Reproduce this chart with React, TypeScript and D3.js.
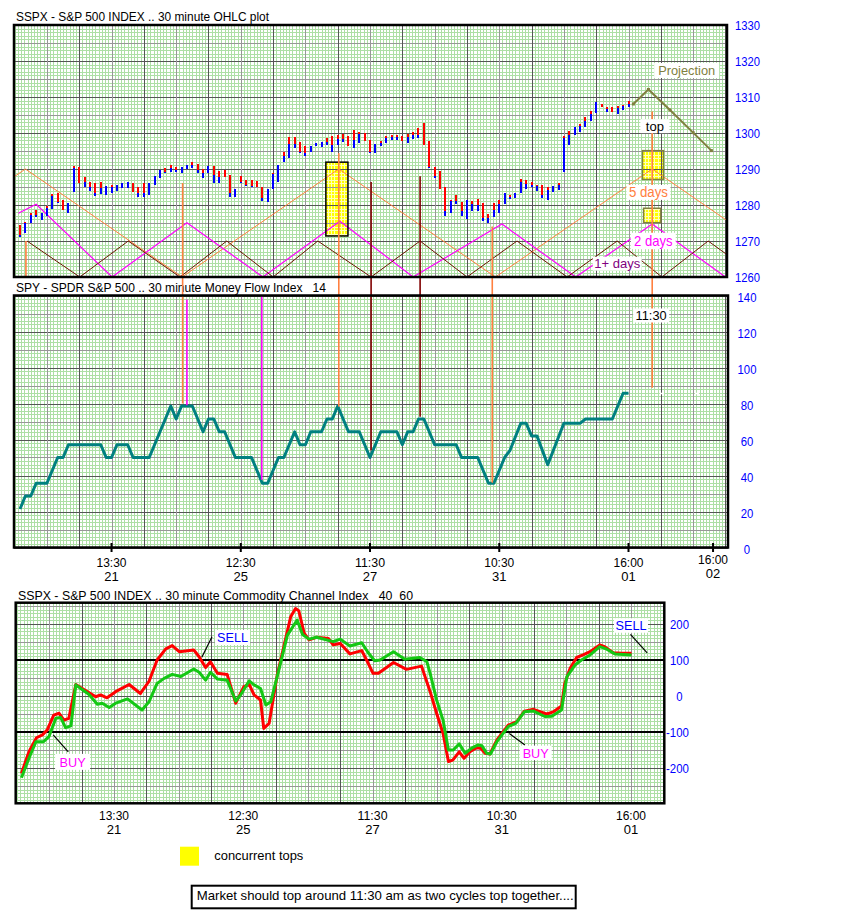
import React from 'react';
import * as d3 from 'd3';

const W = 861;
const H = 917;
const FONT = '"Liberation Sans", Arial, Helvetica, sans-serif';

// ---------------- DATA ----------------
const barHigh = [
  1274.4, 1275.3, 1277.8, 1278.6, 1277.8, 1279.7, 1283.0, 1283.3, 1281.4, 1280.6,
  1290.8, 1290.5, 1287.8, 1286.4, 1286.1, 1286.4, 1285.3, 1285.6, 1285.6, 1286.1,
  1286.4, 1286.1, 1285.0, 1286.1, 1286.1, 1288.1, 1289.7, 1290.3, 1291.1, 1290.5,
  1290.5, 1291.1, 1291.9, 1291.4, 1290.0, 1290.8, 1290.8, 1289.4, 1289.7, 1288.3,
  1284.4, 1288.1, 1287.0, 1287.0, 1286.7, 1285.0, 1284.4, 1288.9, 1291.1, 1294.7,
  1298.9, 1298.9, 1297.5, 1296.4, 1296.4, 1297.2, 1297.5, 1298.6, 1299.2, 1299.4,
  1299.7, 1299.2, 1300.8, 1300.3, 1300.0, 1298.1, 1297.0, 1297.9, 1299.2, 1299.4,
  1299.4, 1299.2, 1299.7, 1300.3, 1301.4, 1302.8, 1297.8, 1290.5, 1289.4, 1285.0,
  1281.4, 1282.8, 1280.8, 1281.4, 1281.1, 1281.7, 1280.6, 1277.5, 1280.6, 1281.4,
  1283.3, 1282.8, 1283.3, 1287.2, 1286.9, 1286.4, 1285.6, 1285.6, 1285.0, 1285.3,
  1286.1, 1299.2, 1300.5, 1301.7, 1302.5, 1304.4, 1306.1, 1308.6, 1308.1, 1307.2,
  1307.2, 1307.5, 1307.8, 1308.9,
];
const barMid = [
  1271.7, 1274.9, 1277.2, 1277.2, 1277.8, 1279.2, 1282.5, 1280.9, 1278.6, 1280.6,
  1290.3, 1286.1, 1286.4, 1285.0, 1283.3, 1284.7, 1285.3, 1285.0, 1285.6, 1286.1,
  1286.4, 1283.6, 1283.3, 1283.3, 1286.1, 1288.1, 1289.7, 1289.2, 1290.3, 1289.7,
  1290.5, 1291.1, 1291.1, 1289.7, 1288.9, 1290.8, 1288.3, 1287.8, 1287.8, 1283.3,
  1284.4, 1286.4, 1285.6, 1285.3, 1285.0, 1281.9, 1284.4, 1288.6, 1291.1, 1293.6,
  1297.0, 1297.0, 1294.7, 1294.4, 1296.4, 1297.2, 1297.5, 1297.5, 1296.7, 1298.3,
  1298.3, 1296.4, 1298.1, 1299.7, 1297.8, 1294.7, 1297.0, 1297.2, 1298.6, 1298.9,
  1298.9, 1297.8, 1298.9, 1299.4, 1299.4, 1296.7, 1290.5, 1288.1, 1284.4, 1278.3,
  1281.1, 1281.1, 1278.3, 1281.4, 1280.3, 1280.0, 1276.4, 1276.4, 1278.6, 1280.3,
  1283.3, 1282.2, 1283.3, 1286.4, 1285.8, 1285.6, 1285.3, 1282.8, 1284.2, 1285.3,
  1285.6, 1298.6, 1299.4, 1301.7, 1301.9, 1303.3, 1305.3, 1308.6, 1307.2, 1306.7,
  1305.8, 1306.9, 1307.5, 1308.1,
];
const barLow = [
  1271.1, 1272.2, 1275.0, 1276.7, 1275.8, 1277.0, 1278.9, 1280.6, 1278.6, 1277.8,
  1283.6, 1286.1, 1285.0, 1283.9, 1282.5, 1283.1, 1282.8, 1283.3, 1283.9, 1284.7,
  1284.7, 1283.6, 1282.2, 1282.2, 1282.8, 1285.6, 1287.5, 1288.9, 1289.2, 1289.2,
  1288.9, 1290.0, 1290.3, 1288.9, 1287.5, 1288.9, 1286.1, 1286.1, 1287.8, 1282.2,
  1282.2, 1286.1, 1285.3, 1285.0, 1285.0, 1281.1, 1280.8, 1284.4, 1286.4, 1291.9,
  1293.1, 1295.8, 1294.4, 1293.6, 1294.7, 1296.4, 1296.1, 1296.7, 1294.7, 1296.7,
  1297.5, 1296.4, 1295.8, 1297.2, 1297.8, 1294.4, 1294.4, 1296.4, 1297.2, 1298.1,
  1298.1, 1297.8, 1297.2, 1298.3, 1298.6, 1296.7, 1290.3, 1287.5, 1284.4, 1276.9,
  1277.8, 1280.3, 1276.9, 1276.1, 1278.3, 1278.3, 1275.6, 1275.0, 1276.7, 1277.8,
  1280.3, 1281.7, 1282.0, 1283.3, 1284.4, 1285.0, 1283.9, 1281.9, 1281.4, 1283.6,
  1284.2, 1289.2, 1296.7, 1299.4, 1300.3, 1301.7, 1303.3, 1305.6, 1307.2, 1305.8,
  1305.8, 1305.3, 1306.4, 1307.2,
];

const mfiIdx = [0, 1, 2, 3, 5, 7, 8, 9, 15, 16, 17, 18, 20, 21, 24, 28, 29, 30, 32, 34, 35, 36, 37, 38, 40, 43, 45, 46, 48, 49, 51, 52, 53, 54, 56, 57, 58, 59, 61, 63, 65, 67, 70, 71, 72, 73, 74, 75, 76, 77, 81, 82, 85, 87, 88, 90, 91, 93, 94, 95, 96, 98, 101, 104, 105, 110, 112, 113];
const mfiVal = [21.4, 28.6, 28.6, 35.7, 35.7, 50, 50, 57.1, 57.1, 50, 50, 57.1, 57.1, 50, 50, 78.6, 71.4, 78.6, 78.6, 64.3, 71.4, 71.4, 64.3, 64.3, 50, 50, 35.7, 35.7, 50, 50, 64.3, 57.1, 57.1, 64.3, 64.3, 71.4, 71.4, 78.6, 64.3, 64.3, 50, 64.3, 64.3, 57.1, 64.3, 64.3, 71.4, 71.4, 64.3, 57.1, 57.1, 50, 50, 35.7, 35.7, 50, 54, 69, 69, 62, 62, 46, 69, 69, 71.4, 71.4, 85.7, 85.7];
const mfiProjIdx = [119.2, 125.7];
const mfiProjVal = [85.7, 85.7];

const cciRedIdx = [-0.2, 1.2, 2.6, 3.7, 4.6, 5.8, 6.8, 7.7, 8.6, 9.9, 11.1, 13.6, 14.5, 15.7, 17.3, 19.8, 21.9, 23.5, 25, 26.6, 27.8, 29.1, 31.8, 32.8, 34, 34.9, 36.2, 38, 39.6, 41.1, 42.1, 43, 44.2, 44.8, 45.8, 47.3, 48.6, 49.8, 50.7, 51.3, 52.3, 53.2, 54.6, 56.8, 57.7, 59, 60.8, 63, 63.9, 65.1, 66.1, 68.9, 71.3, 74.1, 75.7, 76.9, 78.1, 79.1, 79.9, 81.1, 82, 83.1, 84.3, 85.1, 85.9, 86.8, 88.1, 90.2, 91.8, 93.2, 94.9, 97.3, 98.6, 100.1, 100.7, 101.7, 102.9, 104.1, 105.4, 107.2, 108.1, 109.7, 111.3, 113.1];
const cciRedVal = [-215, -155, -116, -108, -94, -53, -48, -67, -62, 32, 21, -2, 3, -5, 12, 32, 7, 41, 100, 131, 140, 123, 128, 109, 79, 95, 63, 60, -20, 26, 32, 3, -11, -90, -76, 58, 142, 220, 243, 237, 175, 156, 163, 160, 142, 146, 117, 126, 100, 63, 63, 93, 74, 83, 12, -48, -104, -182, -178, -155, -173, -155, -144, -145, -159, -161, -122, -81, -71, -42, -37, -50, -44, -28, 35, 77, 107, 114, 123, 142, 137, 120, 119, 119];
const cciGreenIdx = [-0.2, 1.2, 2.5, 3.9, 4.9, 6.2, 7.1, 8, 9, 9.9, 10.8, 12.3, 13.9, 14.8, 16.1, 17.3, 19.5, 22.2, 23.5, 25, 26.3, 27.8, 29.4, 31.8, 32.8, 34, 34.9, 36.2, 38, 39.6, 40.5, 42.1, 43, 44.2, 45.2, 46.1, 47.6, 49.2, 51, 52, 53.2, 54.6, 57.7, 59, 60.8, 63, 64.2, 65.4, 66.4, 68.9, 71, 73.8, 75.1, 75.7, 76.9, 78.1, 79.1, 80, 81.1, 82.2, 83.4, 84.6, 85.3, 86.2, 86.9, 88.1, 90.2, 91.6, 93.2, 94.9, 97, 98.3, 100.1, 101.1, 102.6, 103.8, 105.4, 107.2, 108.5, 110, 113.1];
const cciGreenVal = [-227, -173, -127, -127, -113, -62, -60, -88, -83, 31, 21, 5, -23, -20, -32, -20, -8, -39, -16, 35, 49, 60, 54, 75, 66, 44, 66, 47, 44, -14, 3, 42, 31, 21, -25, -16, 72, 169, 211, 171, 158, 163, 151, 158, 139, 148, 120, 98, 100, 123, 102, 107, 95, 63, -11, -67, -150, -150, -133, -159, -145, -136, -138, -159, -161, -127, -85, -76, -44, -42, -57, -56, -39, 54, 86, 100, 114, 137, 130, 117, 114];

// cycle lines (vertices: bar index, price)
const cycle5Idx = [-28.1, 1, 30.1, 59.2, 88.3, 117.4, 146.5];
const cycle5Val = [1260, 1290, 1260, 1290, 1260, 1290, 1260];
const cycle2Idx = [-0.3, 3, 17.1, 31, 45.1, 59.4, 73, 89.5, 103.2, 117.4, 131];
const cycle2Val = [1277.7, 1280.2, 1260, 1275.1, 1260, 1275.5, 1260, 1274.7, 1260, 1274.7, 1260];
const cycle1Idx = [1.3, 11.1, 20.1, 29.7, 38.4, 47, 55.3, 65.2, 74.3, 83, 92.3, 101.6, 110.9, 119.2, 127.8, 137];
const cycle1Val = [1270, 1260, 1270, 1260, 1270, 1260, 1270, 1260, 1270, 1260, 1270, 1260, 1270, 1260, 1270, 1260];

const projIdx = [113.9, 116.7, 120.7, 125, 128.4];
const projVal = [1308.05, 1312.1, 1306.4, 1300.1, 1295.1];

// vertical cycle markers
const markerIdx = [1.1, 30.2, 31.0, 44.9, 59.2, 65.2, 74.3, 87.7, 117.4];
const markerFrom = [1270, 1286.1, 137.8, 140, 1294.4, 1286.4, 1288, 1274, 1306];
const markerFromPanel = ['p', 'p', 'm', 'm', 'p', 'p', 'p', 'p', 'p'];
const markerTo = [1260, 80, 79, 37.6, 78.3, 54, 72.7, 36, 88.8];
const markerToPanel = ['p', 'm', 'm', 'm', 'm', 'm', 'm', 'm', 'm'];
const markerKind = ['orange', 'orange', 'magenta', 'magenta', 'orange', 'maroon', 'maroon', 'orange', 'orange'];

// boxes (bar index range, price range)
const concurrentBox = { i0: 56.8, i1: 60.9, p0: 1271.4, p1: 1291.9 };
const projBoxes = [
  { i0: 115.6, i1: 119.5, p0: 1287.1, p1: 1295.1 },
  { i0: 115.8, i1: 119.0, p0: 1275.1, p1: 1279.1 },
];

// axis ticks
const priceTicks = [1260, 1270, 1280, 1290, 1300, 1310, 1320, 1330];
const mfiTicks = [0, 20, 40, 60, 80, 100, 120, 140];
const cciTicks = [200, 100, 0, -100, -200];
const timeIdx = [17, 41, 65, 89, 113];
const timeLabel = ['13:30', '12:30', '11:30', '10:30', '16:00'];
const dayLabel = ['21', '25', '27', '31', '01'];
const extraTimeIdx = 128.7;
const extraTimeLabel = '16:00';
const extraDayLabel = '02';

const COL = {
  minor: '#addfa5',
  med: '#979797',
  dark: '#555555',
  orange: '#ff8040',
  magenta: '#ff00ff',
  maroon: '#800000',
  brown: '#6a1500',
  olive: '#808040',
  teal: '#008080',
  blue: '#0000ff',
  red: '#ff0000',
  green: '#14c814',
  purple: '#800080',
};

function cr(v: number) {
  return Math.round(v) + 0.5;
}

type PanelProps = {
  x: d3.ScaleLinear<number, number>;
  y: d3.ScaleLinear<number, number>;
  x0: number; x1: number; y0: number; y1: number;
  hMinor: number; hMed: number; hMajor: number;
  boxes?: { x: number; y: number; w: number; h: number }[];
  id: string;
};

function Grid({ x, y, x0, x1, y0, y1, hMinor, hMed, hMajor, boxes, id }: PanelProps) {
  const vTop = y.invert(y0);
  const vBot = y.invert(y1);
  const lo = Math.min(vTop, vBot);
  const hi = Math.max(vTop, vBot);
  const hVals: number[] = [];
  for (let k = Math.ceil(lo / hMinor - 1e-6); k * hMinor <= hi + 1e-6; k++) hVals.push(k * hMinor);
  const iLo = x.invert(x0);
  const iHi = x.invert(x1);
  const vMinor: number[] = [];
  for (let k = 0; ; k++) {
    const v = -1 + 0.6 * k;
    if (v > iHi) break;
    if (v >= iLo) vMinor.push(v);
  }
  const vMajor: number[] = [];
  for (let k = 0; ; k++) {
    const v = 5 + 6 * k;
    if (v > iHi - 0.2) break;
    vMajor.push(v);
  }
  const isMult = (v: number, m: number) => Math.abs(v / m - Math.round(v / m)) < 1e-6;
  const minorLines = (stroke: string) => (
    <g stroke={stroke} strokeWidth={1} shapeRendering="crispEdges">
      {hVals.filter((v) => !isMult(v, hMed)).map((v, k) => (
        <line key={'h' + k} x1={x0} x2={x1} y1={cr(y(v))} y2={cr(y(v))} />
      ))}
      {vMinor.map((v, k) => (
        <line key={'v' + k} x1={cr(x(v))} x2={cr(x(v))} y1={y0} y2={y1} />
      ))}
    </g>
  );
  return (
    <g>
      <rect x={x0} y={y0} width={x1 - x0} height={y1 - y0} fill="#ffffff" />
      {minorLines(COL.minor)}
      {boxes && boxes.length > 0 && (
        <g>
          <defs>
            <clipPath id={id + '-bx'}>
              {boxes.map((b, k) => (
                <rect key={k} x={b.x} y={b.y} width={b.w} height={b.h} />
              ))}
            </clipPath>
          </defs>
          {boxes.map((b, k) => (
            <rect key={k} x={b.x} y={b.y} width={b.w} height={b.h} fill="#ffff00" />
          ))}
          <g clipPath={`url(#${id}-bx)`}>{minorLines('#ffffb8')}</g>
        </g>
      )}
      <g strokeWidth={1} shapeRendering="crispEdges">
        {hVals.filter((v) => isMult(v, hMed)).map((v, k) => (
          <line key={'H' + k} x1={x0} x2={x1} y1={cr(y(v))} y2={cr(y(v))}
            stroke={isMult(v, hMajor) ? COL.dark : COL.med} />
        ))}
        {vMajor.map((v, k) => (
          <line key={'V' + k} x1={cr(x(v))} x2={cr(x(v))} y1={y0} y2={y1}
            stroke={(v - 11) % 12 === 0 ? COL.dark : COL.med} />
        ))}
      </g>
    </g>
  );
}

function LabelBox({ cx, cy, w, h, text, color, size, tl }: { cx: number; cy: number; w: number; h: number; text: string; color: string; size: number; tl?: number }) {
  return (
    <g>
      <rect x={cx - w / 2} y={cy - h / 2} width={w} height={h} fill="#ffffff" />
      <text x={cx} y={cy + size * 0.36} textAnchor="middle" fontSize={size} fill={color}
        fontFamily={FONT} textLength={tl} lengthAdjust={tl ? 'spacingAndGlyphs' : undefined}>{text}</text>
    </g>
  );
}

export default function App() {
  const barStep = 5.385;
  const xP = d3.scaleLinear().domain([0, 113]).range([20, 20 + 113 * barStep]);
  const xC = d3.scaleLinear().domain([0, 113]).range([22.5, 22.5 + 113 * barStep]);
  const yP = d3.scaleLinear().domain([1260, 1330]).range([277, 25]);
  const yM = d3.scaleLinear().domain([0, 140]).range([547.5, 295.5]);
  const yC = d3.scaleLinear().domain([-100, 100]).range([732, 660]);

  const P = { x0: 14, x1: 727, y0: 25, y1: 277 };
  const M = { x0: 14, x1: 728, y0: 295.5, y1: 547.5 };
  const C = { x0: 15.7, x1: 664.3, y0: 602.7, y1: 803.3 };

  const mkLine = (xs: d3.ScaleLinear<number, number>, ys: d3.ScaleLinear<number, number>, idx: number[], val: number[]) =>
    d3.line<number>().x((d) => xs(idx[d])).y((d) => ys(val[d]))(d3.range(idx.length)) || '';

  const boxRect = (b: { i0: number; i1: number; p0: number; p1: number }) => ({
    x: xP(b.i0), y: yP(b.p1), w: xP(b.i1) - xP(b.i0), h: yP(b.p0) - yP(b.p1),
  });
  const yellowBoxes = [boxRect(concurrentBox), ...projBoxes.map(boxRect)];

  const markerY = (v: number, panel: string) => (panel === 'p' ? yP(v) : yM(v));
  const markerColor: Record<string, string> = { orange: COL.orange, magenta: COL.magenta, maroon: COL.maroon };

  const digitW = 6.3;
  const numTL = (s: string) => s.replace('-', '').length * digitW + (s.startsWith('-') ? 4 : 0);

  const titleStyle = { fontFamily: FONT, fontSize: 13, fill: '#000' };
  const nb = '\u00a0';

  return (
    <svg width={W} height={H} viewBox={`0 0 ${W} ${H}`}
      style={{ position: 'absolute', left: 0, top: 0, display: 'block', background: '#fff' }}>
      <rect x={0} y={0} width={W} height={H} fill="#ffffff" />
      <defs>
        <clipPath id="clipP"><rect x={P.x0} y={P.y0} width={P.x1 - P.x0} height={P.y1 - P.y0} /></clipPath>
        <clipPath id="clipM"><rect x={M.x0} y={M.y0} width={M.x1 - M.x0} height={M.y1 - M.y0} /></clipPath>
        <clipPath id="clipC"><rect x={C.x0} y={C.y0} width={C.x1 - C.x0} height={C.y1 - C.y0} /></clipPath>
      </defs>

      {/* ---------- TOP PANEL ---------- */}
      <text x={16} y={21} {...titleStyle} textLength={253} lengthAdjust="spacingAndGlyphs">SSPX - S&amp;P 500 INDEX .. 30 minute OHLC plot</text>
      <Grid id="gp" x={xP} y={yP} {...P} hMinor={1} hMed={5} hMajor={10} boxes={yellowBoxes} />

      <g clipPath="url(#clipP)" fill="none">
        <path d={mkLine(xP, yP, cycle5Idx, cycle5Val)} stroke={COL.orange} strokeWidth={1} />
        <path d={mkLine(xP, yP, cycle2Idx, cycle2Val)} stroke={COL.magenta} strokeWidth={1.2} />
        <path d={mkLine(xP, yP, cycle1Idx, cycle1Val)} stroke={COL.brown} strokeWidth={1} />
      </g>

      {/* box borders */}
      {(() => {
        const b = boxRect(concurrentBox);
        return <rect x={b.x} y={b.y} width={b.w} height={b.h} fill="none" stroke="#000" strokeWidth={1.5} />;
      })()}
      {projBoxes.map((pb, k) => {
        const b = boxRect(pb);
        return <rect key={k} x={b.x} y={b.y} width={b.w} height={b.h} fill="none" stroke={COL.olive} strokeWidth={1.5} />;
      })}

      {/* OHLC bars */}
      <g shapeRendering="crispEdges">
        {barHigh.map((h, i) => {
          const x = xP(i) - 1;
          return (
            <g key={i}>
              {h > barMid[i] && <rect x={x} y={yP(h)} width={2} height={yP(barMid[i]) - yP(h)} fill={COL.red} />}
              {barMid[i] > barLow[i] && <rect x={x} y={yP(barMid[i])} width={2} height={yP(barLow[i]) - yP(barMid[i])} fill={COL.blue} />}
            </g>
          );
        })}
      </g>

      {/* projection */}
      <path d={mkLine(xP, yP, projIdx, projVal)} fill="none" stroke={COL.olive} strokeWidth={2} />
      {projIdx.map((v, k) => (
        <rect key={k} x={xP(v) - 1.5} y={yP(projVal[k]) - 1.5} width={3} height={3} fill={COL.olive} />
      ))}

      {/* y axis labels top */}
      {priceTicks.map((t) => (
        <text key={t} x={747.5} y={yP(t) + 4.7} textAnchor="middle" fontFamily={FONT} fontSize={13}
          fill={COL.blue} textLength={25} lengthAdjust="spacingAndGlyphs">{t}</text>
      ))}

      {/* ---------- MFI PANEL ---------- */}
      <text x={16} y={292} {...titleStyle} textLength={310} lengthAdjust="spacingAndGlyphs">{`SPY - SPDR S&P 500 .. 30 minute Money Flow Index ${nb}${nb}14`}</text>
      <Grid id="gm" x={xP} y={yM} {...M} hMinor={2} hMed={10} hMajor={20} />
      <g clipPath="url(#clipM)">
        <path d={mkLine(xP, yM, mfiIdx, mfiVal)} fill="none" stroke={COL.teal} strokeWidth={3} strokeLinejoin="round" />
        {mfiProjIdx.map((v, k) => (
          <rect key={k} x={xP(v) - 2} y={yM(mfiProjVal[k]) - 0.5} width={4} height={1.5} fill="#ffffff" />
        ))}
      </g>
      {mfiTicks.map((t) => (
        <text key={t} x={747} y={yM(t) + 6.5} textAnchor="middle" fontFamily={FONT} fontSize={13}
          fill={COL.blue} textLength={numTL(String(t))} lengthAdjust="spacingAndGlyphs">{t}</text>
      ))}
      {/* time ticks */}
      {timeIdx.map((v, k) => (
        <g key={k}>
          <line x1={xP(v)} x2={xP(v)} y1={543} y2={552} stroke="#000" strokeWidth={2} />
          <text x={xP(v)} y={567} textAnchor="middle" fontFamily={FONT} fontSize={13} fill="#000"
            textLength={30} lengthAdjust="spacingAndGlyphs">{timeLabel[k]}</text>
          <text x={xP(v)} y={580.5} textAnchor="middle" fontFamily={FONT} fontSize={13} fill="#000">{dayLabel[k]}</text>
        </g>
      ))}
      <line x1={xP(extraTimeIdx)} x2={xP(extraTimeIdx)} y1={543} y2={552} stroke="#000" strokeWidth={2} />
      <text x={xP(extraTimeIdx)} y={563.5} textAnchor="middle" fontFamily={FONT} fontSize={13} fill="#000"
        textLength={30} lengthAdjust="spacingAndGlyphs">{extraTimeLabel}</text>
      <text x={xP(extraTimeIdx)} y={577.5} textAnchor="middle" fontFamily={FONT} fontSize={13} fill="#000">{extraDayLabel}</text>

      {/* markers spanning panels */}
      <g>
        {markerIdx.map((v, k) => (
          <line key={k} x1={xP(v)} x2={xP(v)}
            y1={markerY(markerFrom[k], markerFromPanel[k])} y2={markerY(markerTo[k], markerToPanel[k])}
            stroke={markerColor[markerKind[k]]} strokeWidth={1.6} />
        ))}
      </g>

      {/* annotation label boxes */}
      <LabelBox cx={xP(123.8)} cy={yP(1317.36)} w={65} h={15} text="Projection" color={COL.olive} size={13} tl={57} />
      <LabelBox cx={xP(117.9)} cy={yP(1301.9)} w={29} h={14} text="top" color="#000" size={13} />
      <LabelBox cx={xP(116.7)} cy={yP(1283.5)} w={44} h={15} text="5 days" color={COL.orange} size={14} tl={39} />
      <LabelBox cx={xP(117.6)} cy={yP(1270.0)} w={45} h={16.5} text="2 days" color={COL.magenta} size={14.5} tl={38.5} />
      <LabelBox cx={xP(110.9)} cy={yP(1263.7)} w={49} h={14} text="1+ days" color={COL.purple} size={13} tl={46} />
      <LabelBox cx={xP(117.2)} cy={yM(128.9)} w={36} h={14} text="11:30" color="#000" size={13} tl={31} />

      {/* borders */}
      <rect x={P.x0} y={P.y0} width={P.x1 - P.x0} height={P.y1 - P.y0} fill="none" stroke="#000" strokeWidth={2.5} />
      <rect x={M.x0} y={M.y0} width={M.x1 - M.x0} height={M.y1 - M.y0} fill="none" stroke="#000" strokeWidth={2.5} />

      {/* ---------- CCI PANEL ---------- */}
      <text x={18} y={600} {...titleStyle} textLength={395} lengthAdjust="spacingAndGlyphs">{`SSPX - S&P 500 INDEX .. 30 minute Commodity Channel Index ${nb}${nb}40 ${nb}60`}</text>
      <Grid id="gc" x={xC} y={yC} {...C} hMinor={10} hMed={50} hMajor={100} />
      <g shapeRendering="crispEdges">
        {[100, -100].map((v) => (
          <line key={v} x1={C.x0} x2={C.x1} y1={yC(v)} y2={yC(v)} stroke="#000" strokeWidth={2} />
        ))}
      </g>
      <g clipPath="url(#clipC)" fill="none" strokeLinejoin="round">
        <path d={mkLine(xC, yC, cciRedIdx, cciRedVal)} stroke={COL.red} strokeWidth={3} />
        <path d={mkLine(xC, yC, cciGreenIdx, cciGreenVal)} stroke={COL.green} strokeWidth={3} />
      </g>
      {/* CCI annotations */}
      <line x1={xC(33.3)} y1={yC(107.5)} x2={xC(35.2)} y2={yC(164.7)} stroke="#000" strokeWidth={1.2} />
      <LabelBox cx={xC(39.0)} cy={yC(162.5)} w={35} h={15} text="SELL" color={COL.blue} size={13.5} tl={31} />
      <line x1={xC(5.7)} y1={yC(-108)} x2={xC(8.5)} y2={yC(-155)} stroke="#000" strokeWidth={1.2} />
      <LabelBox cx={xC(9.3)} cy={yC(-183)} w={35} h={16} text="BUY" color={COL.magenta} size={13.5} tl={26} />
      <line x1={xC(112.9)} y1={yC(171)} x2={xC(116.0)} y2={yC(120)} stroke="#000" strokeWidth={1.2} />
      <LabelBox cx={xC(113.0)} cy={yC(195.8)} w={34} h={14.5} text="SELL" color={COL.blue} size={13.5} tl={31} />
      <line x1={xC(90.4)} y1={yC(-104)} x2={xC(93.3)} y2={yC(-136)} stroke="#000" strokeWidth={1.2} />
      <LabelBox cx={xC(95.3)} cy={yC(-158)} w={32} h={14.5} text="BUY" color={COL.magenta} size={13.5} tl={26} />

      <rect x={C.x0} y={C.y0} width={C.x1 - C.x0} height={C.y1 - C.y0} fill="none" stroke="#000" strokeWidth={2.5} />
      {cciTicks.map((t) => (
        <text key={t} x={679.5 - (t < 0 ? 2 : 0)} y={yC(t) + 4.7} textAnchor="middle" fontFamily={FONT} fontSize={13}
          fill={COL.blue} textLength={numTL(String(t))} lengthAdjust="spacingAndGlyphs">{t}</text>
      ))}
      {timeIdx.map((v, k) => (
        <g key={k}>
          <text x={xC(v)} y={820} textAnchor="middle" fontFamily={FONT} fontSize={13} fill="#000"
            textLength={30} lengthAdjust="spacingAndGlyphs">{timeLabel[k]}</text>
          <text x={xC(v)} y={834} textAnchor="middle" fontFamily={FONT} fontSize={13} fill="#000">{dayLabel[k]}</text>
        </g>
      ))}

      {/* legend */}
      <rect x={180} y={846.7} width={19} height={19} fill="#ffff00" />
      <text x={214.3} y={860} fontFamily={FONT} fontSize={13} fill="#000" textLength={89} lengthAdjust="spacingAndGlyphs">concurrent tops</text>

      {/* footer note */}
      <rect x={191.7} y={885.7} width={384} height={22.6} fill="#ffffff" stroke="#000" strokeWidth={2} />
      <text x={196.7} y={900} fontFamily={FONT} fontSize={13} fill="#000" textLength={377} lengthAdjust="spacingAndGlyphs">Market should top around 11:30 am as two cycles top together....</text>
    </svg>
  );
}
